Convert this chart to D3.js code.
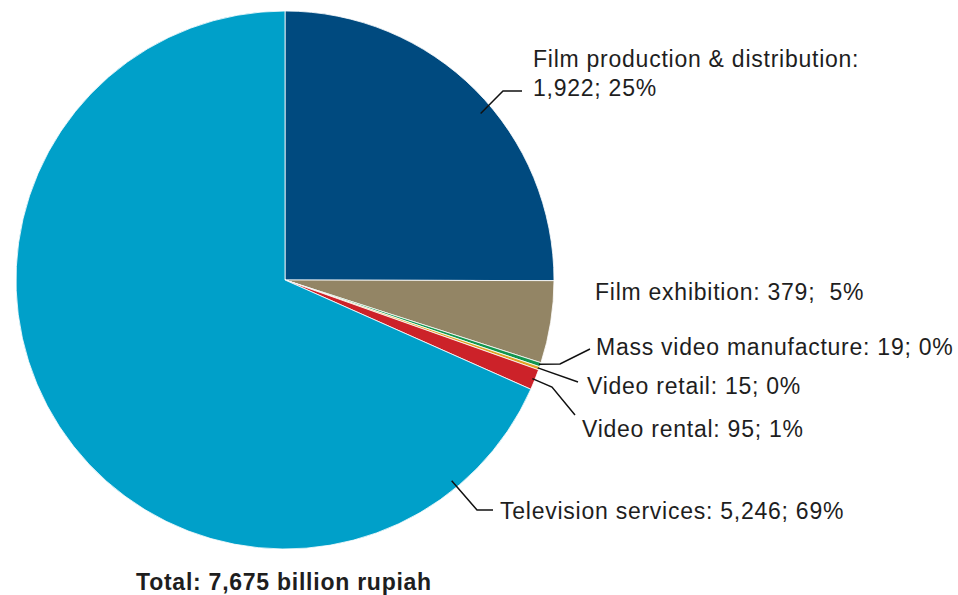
<!DOCTYPE html>
<html>
<head>
<meta charset="utf-8">
<script src="https://cdn.jsdelivr.net/npm/d3@7"></script>
<style>
  html, body { margin: 0; padding: 0; background: #fff; }
  svg { display: block; }
  text { font-family: "Liberation Sans", Arial, Helvetica, sans-serif; fill: #1e1e1e; }
</style>
</head>
<body>
<svg id="chart" width="958" height="595"></svg>
<script>
// Audiovisual industry output, billion rupiah
const categories = [
  "Film production & distribution",
  "Film exhibition",
  "Mass video manufacture",
  "Video retail",
  "Video rental",
  "Television services"
];
const values = [1922, 379, 19, 15, 95, 5246];
const percents = ["25%", " 5%", "0%", "0%", "1%", "69%"];
const valueLabels = ["1,922", "379", "19", "15", "95", "5,246"];
const colors = ["#004a7f", "#938565", "#11954f", "#e0a525", "#cc2229", "#00a0c9"];
const totalLabel = "Total: 7,675 billion rupiah";

// Label placement: anchor angle on the slice (deg, null = slice middle),
// anchor radius factor, leader path points and text position.
const labelLayout = [
  { anchorDeg: 49.6, anchorR: 0.955, pts: [[503, 91], [522, 91]], tx: 533, ty: [67, 96], lines: 2 },
  { anchorDeg: null, anchorR: null, pts: null, tx: 595, ty: [300], lines: 1 },
  { anchorDeg: null, anchorR: 0.995, pts: [[560, 364], [590, 349]], tx: 596, ty: [355], lines: 1 },
  { anchorDeg: null, anchorR: 0.995, pts: [[578, 382]], tx: 587, ty: [394], lines: 1 },
  { anchorDeg: null, anchorR: 0.99, pts: [[552, 387], [575, 415]], tx: 582, ty: [437], lines: 1 },
  { anchorDeg: 140.3, anchorR: 0.97, pts: [[477, 510], [493, 510]], tx: 500, ty: [519], lines: 1 }
];

const svg = d3.select("#chart");
const cx = 285, cy = 280, radius = 269;
const fontSize = 23, spacing = 0.75;

const data = categories.map((c, i) => ({ name: c, value: values[i], i }));
const pie = d3.pie().value(d => d.value).sort(null);
const arcs = pie(data);
const arc = d3.arc().innerRadius(0).outerRadius(radius);

const g = svg.append("g").attr("transform", `translate(${cx},${cy})`);
g.selectAll("path.slice")
  .data(arcs)
  .join("path")
  .attr("class", "slice")
  .attr("d", arc)
  .attr("fill", d => colors[d.data.i])
  .attr("stroke", "#fff")
  .attr("stroke-width", 0.8);

// Leader lines and labels
arcs.forEach((a, i) => {
  const lay = labelLayout[i];
  if (lay.pts) {
    const ang = lay.anchorDeg != null ? lay.anchorDeg * Math.PI / 180 : (a.startAngle + a.endAngle) / 2;
    const r = radius * lay.anchorR;
    const start = [cx + r * Math.sin(ang), cy - r * Math.cos(ang)];
    svg.append("path")
      .attr("d", d3.line()([start, ...lay.pts]))
      .attr("fill", "none")
      .attr("stroke", "#111")
      .attr("stroke-width", 1.5);
  }
  const t = svg.append("text")
    .attr("font-size", fontSize)
    .attr("letter-spacing", spacing)
    .attr("xml:space", "preserve");
  if (lay.lines === 2) {
    t.append("tspan").attr("x", lay.tx).attr("y", lay.ty[0]).text(categories[i] + ":");
    t.append("tspan").attr("x", lay.tx).attr("y", lay.ty[1]).text(`${valueLabels[i]}; ${percents[i]}`);
  } else {
    t.attr("x", lay.tx).attr("y", lay.ty[0])
      .text(`${categories[i]}: ${valueLabels[i]}; ${percents[i]}`);
  }
});

svg.append("text")
  .attr("x", 284)
  .attr("y", 590)
  .attr("text-anchor", "middle")
  .attr("font-size", fontSize)
  .attr("letter-spacing", spacing)
  .attr("font-weight", "bold")
  .text(totalLabel);
</script>
</body>
</html>
